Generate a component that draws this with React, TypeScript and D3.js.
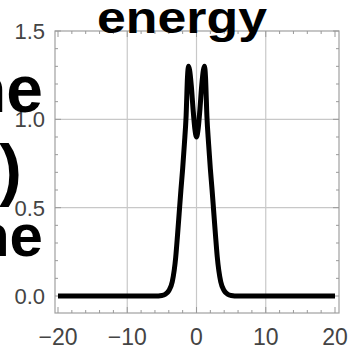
import React from 'react';
import * as d3 from 'd3';

// position along the line
const positions = [
  -20, -6, -5, -4.5, -4, -3.5, -3, -2.75, -2.5, -2.25, -2, -1.75, -1.5, -1.3, -1.15, -1, -0.75, -0.5, -0.25,
  0,
  0.25, 0.5, 0.75, 1, 1.15, 1.3, 1.5, 1.75, 2, 2.25, 2.5, 2.75, 3, 3.5, 4, 4.5, 5, 6, 20,
];
const energy = [
  0, 0, 0.003, 0.01, 0.03, 0.08, 0.22, 0.34, 0.47, 0.6, 0.72, 0.86, 1.02, 1.24, 1.3, 1.28, 1.19, 1.06, 0.95,
  0.9,
  0.95, 1.06, 1.19, 1.28, 1.3, 1.24, 1.02, 0.86, 0.72, 0.6, 0.47, 0.34, 0.22, 0.08, 0.03, 0.01, 0.003, 0, 0,
];

const xTickLabels = [-20, -10, 0, 10, 20];
const yTickLabels = [0, 0.5, 1.0, 1.5];
const xGrid = [-10, 0, 10];
const yGrid = [0.5, 1.0];

const W = 352;
const H = 349;
const frame = { left: 55, right: 339, top: 31, bottom: 313 };

const font = '"Liberation Sans", Arial, Helvetica, sans-serif';

const App: React.FC = () => {
  const x = d3.scaleLinear().domain([-20, 20]).range([58, 335]);
  const y = d3.scaleLinear().domain([0, 1.5]).range([296, 31]);

  const points = positions.map((p, i) => [p, energy[i]] as [number, number]);
  const line = d3.line<[number, number]>()
    .x(d => x(d[0]))
    .y(d => y(d[1]))
    .curve(d3.curveMonotoneX);

  const xMinor = d3.range(-20, 20.01, 2);
  const yMinor = d3.range(-0.05, 1.501, 0.1).map(v => Math.round((v + 0.05) * 10) / 10);

  return (
    <div style={{ position: 'absolute', left: 0, top: 0 }}>
      <svg width={W} height={H} style={{ display: 'block', background: '#fff' }}>
        {/* grid */}
        {xGrid.map(v => (
          <line key={'gx' + v} x1={x(v)} x2={x(v)} y1={frame.top} y2={frame.bottom} stroke="#c8c8c8" strokeWidth={1.2} />
        ))}
        {yGrid.map(v => (
          <line key={'gy' + v} x1={frame.left} x2={frame.right} y1={y(v)} y2={y(v)} stroke="#c8c8c8" strokeWidth={1.2} />
        ))}

        {/* frame */}
        <rect
          x={frame.left}
          y={frame.top}
          width={frame.right - frame.left}
          height={frame.bottom - frame.top}
          fill="none"
          stroke="#a0a0a0"
          strokeWidth={1.2}
        />

        {/* ticks */}
        {xMinor.map(v => {
          const len = v % 10 === 0 ? 6 : 3;
          return (
            <g key={'tx' + v} stroke="#999" strokeWidth={1}>
              <line x1={x(v)} x2={x(v)} y1={frame.bottom} y2={frame.bottom - len} />
              <line x1={x(v)} x2={x(v)} y1={frame.top} y2={frame.top + len} />
            </g>
          );
        })}
        {yMinor.map(v => {
          const len = Math.abs(v * 2 - Math.round(v * 2)) < 1e-6 ? 6 : 3;
          return (
            <g key={'ty' + v} stroke="#999" strokeWidth={1}>
              <line x1={frame.left} x2={frame.left + len} y1={y(v)} y2={y(v)} />
              <line x1={frame.right} x2={frame.right - len} y1={y(v)} y2={y(v)} />
            </g>
          );
        })}

        {/* tick labels */}
        {xTickLabels.map(v => (
          <text
            key={'lx' + v}
            x={x(v)}
            y={345}
            textAnchor="middle"
            fontFamily={font}
            fontSize={23}
            fill="#444"
          >
            {d3.format('d')(v)}
          </text>
        ))}
        {yTickLabels.map(v => (
          <text
            key={'ly' + v}
            x={45}
            y={y(v)}
            dy="0.36em"
            textAnchor="end"
            fontFamily={font}
            fontSize={22}
            fill="#444"
          >
            {d3.format('.1f')(v)}
          </text>
        ))}

        {/* curve */}
        <path d={line(points) || ''} fill="none" stroke="#000" strokeWidth={5} strokeLinejoin="round" />

        {/* clipped labels from the page around the chart */}
        <text x={97} y={33} fontFamily={font} fontWeight="bold" fontSize={44} textLength={170} lengthAdjust="spacingAndGlyphs" fill="#000">
          energy
        </text>
        <text x={43} y={112} textAnchor="end" fontFamily={font} fontWeight="bold" fontSize={66} fill="#000">
          ne
        </text>
        <text x={22} y={193} textAnchor="end" fontFamily={font} fontWeight="bold" fontSize={68} fill="#000">
          )
        </text>
        <text x={43} y={256} textAnchor="end" fontFamily={font} fontWeight="bold" fontSize={60} fill="#000">
          ne
        </text>
      </svg>
    </div>
  );
};

export default App;
